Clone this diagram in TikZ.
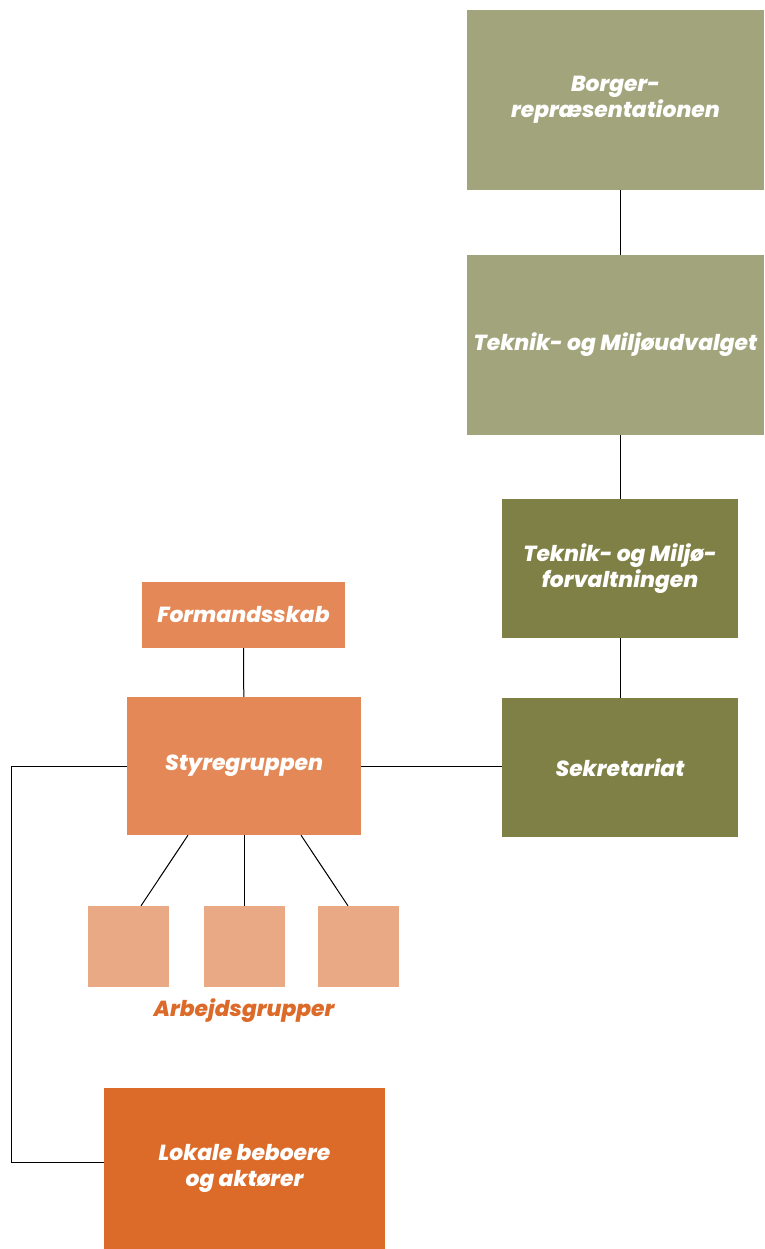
\documentclass[tikz,border=0pt]{standalone}
\usepackage{fontspec}
\setmainfont{Poppins}[BoldItalicFont={Poppins ExtraBold Italic}]
\usepackage{tikz}
\usetikzlibrary{calc}
\definecolor{olivelys}{HTML}{A2A57B}
\definecolor{olivemork}{HTML}{7F8045}
\definecolor{orangemid}{HTML}{E48857}
\definecolor{orangelys}{HTML}{EAA985}
\definecolor{orangemork}{HTML}{DC6A29}
\newcommand{\boxfont}{\fontsize{21.8}{26}\selectfont\bfseries\itshape}

\begin{document}
\begin{tikzpicture}[x=1pt,y=-1pt,
    box/.style={rectangle, inner sep=0pt, text=white, align=center, font=\boxfont},
    link/.style={draw=black, line width=1pt}]
\useasboundingbox (0,0) rectangle (764,1249);
    % politisk og administrativ side
\node (borger) at (615.5,100) [box, fill=olivelys, minimum width=297, minimum height=180] {Borger-\\repræsentationen};
\node (udvalg) at (615.5,345) [box, fill=olivelys, minimum width=297, minimum height=180] {Teknik- og Miljøudvalget};
\node (forvalt) at (620,568.5) [box, fill=olivemork, minimum width=236, minimum height=139] {Teknik- og Miljø-\\forvaltningen};
\node (sekr) at (620,767.5) [box, fill=olivemork, minimum width=236, minimum height=139] {Sekretariat};
    % lokal side
\node (formand) at (243.5,615) [box, fill=orangemid, minimum width=203, minimum height=66] {Formandsskab};
\node (styre) at (244,766) [box, fill=orangemid, minimum width=234, minimum height=138] {Styregruppen};
\node (ag1) at (128.5,946.5) [box, fill=orangelys, minimum size=81] {};
\node (ag2) at (244,946.5) [box, fill=orangelys, minimum size=81] {};
\node (ag3) at (358.5,946.5) [box, fill=orangelys, minimum size=81] {};
\node (aglabel) at (244,1011) [font=\boxfont, text=orangemork] {Arbejdsgrupper};
\node (lokale) at (244.5,1168.5) [box, fill=orangemork, minimum width=281, minimum height=161] {Lokale beboere\\og aktører};
\coordinate (bendtop) at (11,766);
\coordinate (bendbot) at (11,1162);

\draw[link] (borger.south -| forvalt.north) to (udvalg.north -| forvalt.north);
\draw[link] (udvalg.south -| forvalt.north) to (forvalt) to (sekr);
\draw[link] (formand) to (styre);
\draw[link] (styre.east) to (styre.east -| sekr.west);
\draw[link] ($(styre.south)+(-56,0)$) to ($(ag1.north)+(12.5,0)$);
\draw[link] (styre.south) to (ag2.north);
\draw[link] ($(styre.south)+(57,0)$) to ($(ag3.north)+(-10.5,0)$);
\draw[link] (styre.west) to (bendtop) to (bendbot) to (bendbot -| lokale.west);

\end{tikzpicture}
\end{document}
